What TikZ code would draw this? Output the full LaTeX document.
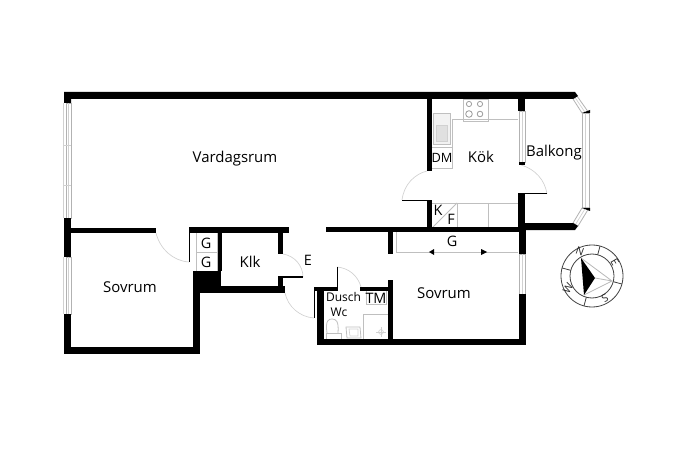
\documentclass[tikz,border=0pt]{standalone}
\usepackage{fontspec}
\setmainfont{Open Sans}
\tikzset{
  wall/.style={fill=black,draw=none},
  fine/.style={draw=black!25,line width=0.6pt},
  faint/.style={draw=black!18,line width=0.5pt},
  win/.style={draw=black!30,fill=white,line width=0.6pt},
  leaf/.style={draw=black,line width=0.9pt},
  lbl/.style={font=\fontsize{11.2pt}{13pt}\selectfont,inner sep=0pt,text=black},
  sm/.style={font=\fontsize{10.8pt}{12pt}\selectfont,inner sep=0pt,text=black},
  tiny/.style={font=\fontsize{9pt}{11pt}\selectfont,inner sep=0pt,text=black},
  cmp/.style={font=\fontsize{8pt}{9pt}\selectfont,inner sep=0pt,text=black!85},
  cline/.style={draw=black!75,line width=0.6pt},
}
\begin{document}
\begin{tikzpicture}[x=0.75pt,y=-0.75pt]
\useasboundingbox (0,0) rectangle (690,460);
% thin interior detail
\draw[fine] (452,119) -- (518,119);
\draw[fine] (452,119) -- (452,168) -- (432,168);
\draw[fine] (432,147) -- (452,147);
\draw[fine,fill=black!5] (433,113) rectangle (450,144);
\draw[faint,fill=black!12] (436,125) rectangle (447,141);
\draw[fine] (463,99) rectangle (488,121);
\foreach \a/\b/\r in {469/104/2.6,480/104/2.6,469/114/3.3,480/114/2.8}{\draw[black!40,line width=0.6pt] (\a,\b) circle[radius=\r*0.75pt];}
\draw[fine] (432,203) -- (518,203);
\draw[fine] (457,203) -- (457,228);
\draw[fine] (488,203) -- (488,228);
\draw[fine] (457,203) -- (432,228);
\draw[fine] (196,232) rectangle (217,271);
\draw[fine] (196,252) -- (217,252);
\draw[fine] (396,232) -- (396,252) -- (518,252);
\fill (429,252) -- (434,249) -- (434,255) -- cycle;
\fill (487,252) -- (481,249) -- (481,255) -- cycle;
\draw[fine] (366,290) rectangle (386,304);
\draw[fine] (363,339) -- (363,314) -- (388,314);
\draw[faint] (381,332) circle[radius=2.4*0.75pt];
\draw[faint] (376,332) -- (386,332) (381,327) -- (381,337);
\draw[fine] (326,339) -- (326,333) -- (341,333) -- (341,339);
\draw[fine] (327,333) .. controls (325,320) and (329,319) .. (332,319) .. controls (336,319) and (339,321) .. (338,333);
\draw[fine] (346,327) -- (360,327) -- (361,338) -- (347,338) -- cycle;
\draw[faint] (349,329) -- (358,329) -- (358,336) -- (350,336) -- cycle;
% door swings
\draw[faint] (156,233) .. controls (160,249) and (173,261) .. (189,262);
\draw[faint] (402,200) .. controls (404,184) and (415,174) .. (427,171);
\draw[faint] (521,165) .. controls (535,169) and (545,180) .. (547,194);
\draw[faint] (283,254) .. controls (295,256) and (303,266) .. (303,277);
\draw[faint] (285,293) .. controls (288,307) and (300,317) .. (314,318);
\draw[faint] (337,267) .. controls (349,268) and (358,276) .. (361,287);
% door leaves
\draw[leaf] (189.5,227) -- (189.5,262);
\draw[leaf] (278,277) -- (303,277);
\draw[leaf] (314.5,287) -- (314.5,318);
\draw[leaf] (337.5,267) -- (337.5,288);
\draw[leaf] (402,200.5) -- (432,200.5);
\draw[leaf] (518,193.5) -- (547,193.5);
% windows
\draw[win] (66,103) rectangle (71,218);
\draw[faint] (63,103) -- (63,218) (68.5,103) -- (68.5,218);
\draw[faint] (64,145) -- (71,145) (64,185) -- (71,185);
\draw[win] (66,257) rectangle (71,314);
\draw[faint] (63,257) -- (63,314) (68.5,257) -- (68.5,314);
\draw[win] (519,111) rectangle (525,162);
\draw[faint] (522,111) -- (522,162);
\draw[win] (519,254) rectangle (525,294);
\draw[faint] (522,254) -- (522,294);
\draw[win] (582,113) rectangle (589,208);
\draw[faint] (585.5,113) -- (585.5,208);
\draw[win] (577,96) -- (589,113) -- (582,113) -- (573,99) -- cycle;
\draw[faint] (575,97.5) -- (585.5,113);
\draw[win] (589,208) -- (578,226) -- (573,223) -- (582,208) -- cycle;
\draw[faint] (585.5,208) -- (575.5,224.5);
\fill (582,113) -- (590,110) -- (590,113) -- cycle;
\fill (582,208) -- (590,208) -- (590,211) -- cycle;
% walls
\fill[wall] (64,92) -- (575,92) -- (578,96) -- (573,99) -- (71,99) -- (71,103) -- (64,103) -- cycle;
\fill[wall] (64,218) rectangle (71,257);
\fill[wall] (64,314) rectangle (71,354);
\fill[wall] (64,347) rectangle (200,354);
\fill[wall] (71,228) rectangle (156,233);
\fill[wall] (193,271) rectangle (200,354);
\fill[wall] (193,271) rectangle (221,293);
\fill[wall] (189,227) rectangle (289,232.5);
\fill[wall] (217.5,232) rectangle (221.5,271);
\fill[wall] (221,286) rectangle (285,293);
\fill[wall] (278,232) rectangle (283,254);
\fill[wall] (278,277) rectangle (283,286);
\fill[wall] (326,227) rectangle (526,232);
\fill[wall] (388,232) rectangle (392.5,254);
\fill[wall] (518.5,232) rectangle (526,254);
\fill[wall] (518.5,294) rectangle (526,345);
\fill[wall] (317,339) rectangle (526,345);
\fill[wall] (317,287) rectangle (323.5,345);
\fill[wall] (314,286.5) rectangle (338,291);
\fill[wall] (360,286.5) rectangle (392.5,291);
\fill[wall] (388,280) rectangle (392.5,345);
\fill[wall] (427,99) rectangle (432,171);
\fill[wall] (427,201) rectangle (432,230);
\fill[wall] (518,99) rectangle (525,111);
\fill[wall] (518.5,162) rectangle (525,165);
\fill[wall] (518,194) rectangle (525,230);
\fill[wall] (525,223) -- (573,223) -- (578,226) -- (575,230) -- (525,230) -- cycle;
% labels
\node[lbl] (vard) at (235,159) {Vardagsrum};
\node[lbl] (kok) at (481,157) {Kök};
\node[sm,font=\fontsize{9.6pt}{12pt}\selectfont] (dm) at (442,158) {DM};
\node[lbl] (balk) at (554,153) {Balkong};
\node[sm] (k) at (438,210) {K};
\node[sm] (f) at (451,219) {F};
\node[sm] (g1) at (452,241) {G};
\node[sm] (g2) at (206,243) {G};
\node[sm] (g3) at (206,262) {G};
\node[lbl] (klk) at (250,262) {Klk};
\node[lbl] (sov1) at (130,287) {Sovrum};
\node[lbl] (sov2) at (444,293) {Sovrum};
\node[sm] (e) at (308,260) {E};
\node[tiny] (dusch) at (343.5,297) {Dusch};
\node[tiny] (wc) at (339,312) {Wc};
\node[sm] (tm) at (376,298) {TM};
% compass
\draw[cline] (592,276) circle[radius=31*0.75pt];
\draw[cline] (592,276) circle[radius=22*0.75pt];
\foreach \t in {75,-15,-105,165}{\draw[cline] (592,276) ++({22*cos(\t)},{-22*sin(\t)}) -- ++({9*cos(\t)},{-9*sin(\t)});}
\draw[black!28,line width=0.6pt] (581,258) -- (612,281) -- (584,295) (595,278) -- (612,281);
\fill[black] (581,258) -- (595,278) -- (584,295) -- cycle;
\node[cmp,rotate=-20] (cn) at (580,251) {N};
\node[cmp,rotate=-60] (ce) at (615,262) {E};
\node[cmp,rotate=-150] (cs) at (605,298) {S};
\node[cmp,rotate=60] (cw) at (568,288) {W};
\end{tikzpicture}
\end{document}
